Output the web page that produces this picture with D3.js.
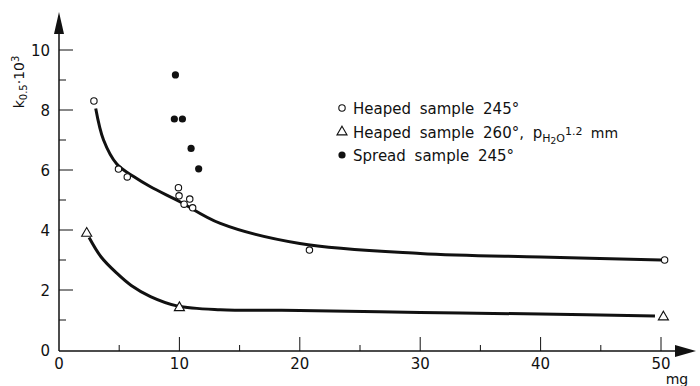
<!DOCTYPE html>
<html>
<head>
<meta charset="utf-8">
<script src="https://cdn.jsdelivr.net/npm/d3@7"></script>
<style>
  body { margin: 0; background: #fff; }
  svg text { font-family: "DejaVu Sans", sans-serif; fill: #111; }
</style>
</head>
<body>
<svg id="chart" width="700" height="386"></svg>
<script>
// data
const heaped245 = [[2.9, 8.3], [4.94, 6.03], [5.67, 5.77], [9.92, 5.41], [9.97, 5.14],
                   [10.39, 4.86], [10.86, 5.03], [11.1, 4.74], [20.8, 3.33], [50.3, 3.0]];
const heaped260 = [[2.3, 3.89], [10.0, 1.41], [50.2, 1.1]];
const spread245 = [[9.67, 9.17], [9.58, 7.7], [10.25, 7.7], [10.97, 6.72], [11.6, 6.04]];

// hand-drawn fit curves
const curveUpper = [[3.05, 8.05], [3.7, 7.0], [4.8, 6.2], [6.2, 5.78], [7.6, 5.44], [10, 4.95],
                    [13.4, 4.22], [20, 3.55], [30, 3.22], [40, 3.1], [50, 3.0]];
const curveLower = [[2.5, 3.75], [3.5, 3.1], [4.8, 2.56], [6, 2.15], [7.6, 1.78], [9.8, 1.47],
                    [13.4, 1.34], [20, 1.32], [30, 1.25], [40, 1.2], [49.5, 1.13]];

const xMajor = [0, 10, 20, 30, 40, 50];
const xMinor = [5, 15, 25, 35, 45];
const yMajor = [0, 2, 4, 6, 8, 10];
const yMinor = [1, 3, 5, 7, 9];

const svg = d3.select("#chart");
const x = d3.scaleLinear().domain([0, 50]).range([59, 661]);
const y = d3.scaleLinear().domain([0, 10]).range([350, 50]);
const ink = "#111";

// axes lines
svg.append("line").attr("x1", x(0)).attr("x2", 680).attr("y1", 351).attr("y2", 351)
    .attr("stroke", ink).attr("stroke-width", 1.5);
svg.append("line").attr("x1", x(0)).attr("x2", x(0)).attr("y1", 351).attr("y2", 28)
    .attr("stroke", ink).attr("stroke-width", 1.5);
// arrows
svg.append("path").attr("d", "M675,345 L696,351 L675,357 Z").attr("fill", ink);
svg.append("path").attr("d", "M54,34 L59,12 L64,34 Z").attr("fill", ink);

// x ticks
svg.selectAll(".xt").data(xMajor.filter(d => d > 0)).join("line")
    .attr("x1", d => x(d)).attr("x2", d => x(d)).attr("y1", 351).attr("y2", 337)
    .attr("stroke", ink).attr("stroke-width", 1);
svg.selectAll(".xm").data(xMinor).join("line")
    .attr("x1", d => x(d)).attr("x2", d => x(d)).attr("y1", 351).attr("y2", 345)
    .attr("stroke", ink).attr("stroke-width", 1);
svg.selectAll(".xl").data(xMajor).join("text")
    .attr("x", d => x(d)).attr("y", 369).attr("text-anchor", "middle")
    .attr("font-size", 15).text(d => d);
svg.append("text").attr("x", 677).attr("y", 384).attr("text-anchor", "middle")
    .attr("font-size", 14).text("mg");

// y ticks
svg.selectAll(".yt").data(yMajor.filter(d => d > 0)).join("line")
    .attr("x1", x(0)).attr("x2", x(0) + 14).attr("y1", d => y(d)).attr("y2", d => y(d))
    .attr("stroke", ink).attr("stroke-width", 1);
svg.selectAll(".ym").data(yMinor).join("line")
    .attr("x1", x(0)).attr("x2", x(0) + 7).attr("y1", d => y(d)).attr("y2", d => y(d))
    .attr("stroke", ink).attr("stroke-width", 1);
svg.selectAll(".yl").data(yMajor).join("text")
    .attr("x", 50).attr("y", d => y(d) + 6).attr("text-anchor", "end")
    .attr("font-size", 15).text(d => d);

// y label
const yl = svg.append("text").attr("transform", "translate(24,82) rotate(-90)")
    .attr("text-anchor", "middle").attr("font-size", 14);
yl.append("tspan").text("k");
yl.append("tspan").attr("font-size", 10).attr("dy", 3).text("0.5");
yl.append("tspan").attr("dy", -3).text("·10");
yl.append("tspan").attr("font-size", 10).attr("dy", -5).text("3");

// curves
const line = d3.line().x(d => x(d[0])).y(d => y(d[1])).curve(d3.curveCatmullRom.alpha(0.5));
[curveUpper, curveLower].forEach(c => {
  svg.append("path").datum(c).attr("d", line).attr("fill", "none")
      .attr("stroke", ink).attr("stroke-width", 3);
});

// markers
const tri = d3.symbol().type(d3.symbolTriangle).size(44);
function openCircle(sel, cx, cy) {
  sel.append("circle").attr("cx", cx).attr("cy", cy).attr("r", 3.2)
      .attr("fill", "#fff").attr("stroke", ink).attr("stroke-width", 1.1);
}
function triangle(sel, cx, cy) {
  sel.append("path").attr("d", tri).attr("transform", `translate(${cx},${cy})`)
      .attr("fill", "#fff").attr("stroke", ink).attr("stroke-width", 1.1);
}
function dot(sel, cx, cy) {
  sel.append("circle").attr("cx", cx).attr("cy", cy).attr("r", 3.6).attr("fill", ink);
}
heaped245.forEach(d => openCircle(svg, x(d[0]), y(d[1])));
heaped260.forEach(d => triangle(svg, x(d[0]), y(d[1])));
spread245.forEach(d => dot(svg, x(d[0]), y(d[1])));

// legend
const lx = 342;
openCircle(svg, lx, 108);
triangle(svg, lx, 132);
dot(svg, lx, 155);
svg.append("text").attr("x", 353).attr("y", 114).attr("font-size", 15)
    .attr("word-spacing", 4).text("Heaped sample 245°");
const t2 = svg.append("text").attr("x", 353).attr("y", 138).attr("font-size", 15)
    .attr("word-spacing", 4);
t2.append("tspan").text("Heaped sample 260°, p");
t2.append("tspan").attr("font-size", 11).attr("dy", 4).text("H");
t2.append("tspan").attr("font-size", 9).attr("dy", 2).text("2");
t2.append("tspan").attr("font-size", 11).attr("dy", -2).text("O");
t2.append("tspan").attr("font-size", 11).attr("dy", -7).text("1.2");
t2.append("tspan").attr("font-size", 14).attr("dy", 3).text(" mm");
svg.append("text").attr("x", 353).attr("y", 161).attr("font-size", 15)
    .attr("word-spacing", 4).text("Spread sample 245°");
</script>
</body>
</html>
